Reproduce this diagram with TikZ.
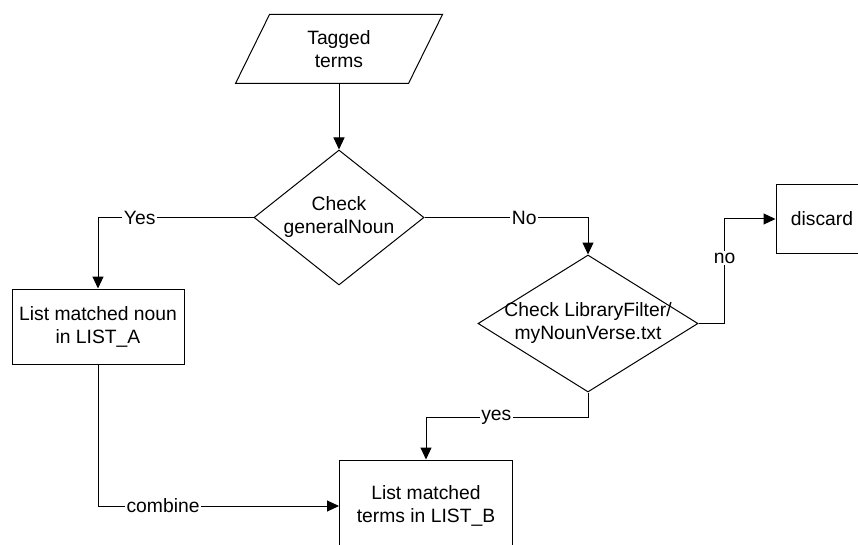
\documentclass[tikz,border=0pt]{standalone}
\usepackage{fontspec}
\setmainfont{Liberation Sans}
\usetikzlibrary{shapes.geometric,arrows.meta,calc}
\begin{document}
\begin{tikzpicture}[x=1pt,y=-1pt,
  every node/.style={font=\fontsize{19.3}{23}\selectfont, align=center},
  box/.style={draw, rectangle, inner sep=0pt},
  decision/.style={draw, diamond, inner sep=0pt},
  txt/.style={inner sep=0pt},
  lbl/.style={fill=white, inner sep=1.5pt},
  flow/.style={line width=1pt, -{Triangle[length=12pt,width=11pt]}},
  plain/.style={line width=1pt},
  line width=1pt]
  \useasboundingbox (0,0) rectangle (858,545);
  \clip (0,0) rectangle (858,545);

  % input: parallelogram with its text
  \node[txt, minimum width=172pt, minimum height=68pt] (in) at (339,49) {Tagged\\terms};
  \draw ($(in.south west)+(-17,0)$) -- ($(in.south east)+(-17,0)$)
        -- ($(in.north east)+(17,0)$) -- ($(in.north west)+(17,0)$) -- cycle;

  % decisions
  \node[decision, minimum width=170pt, minimum height=135pt] (d1) at (339,217.5) {};
  \node[txt] (d1t) at (d1) {Check\\generalNoun};
  \node[decision, minimum width=220pt, minimum height=137pt] (d2) at (588,323.5) {};
  \node[txt] (d2t) at (d2) {Check LibraryFilter/\\myNounVerse.txt};

  % process boxes
  \node[box, minimum width=172pt, minimum height=75pt] (a) at (98,326.5) {List matched noun\\in LIST\_A};
  \node[box, minimum width=173pt, minimum height=92pt] (b) at (426,506) {List matched\\terms in LIST\_B};
  \node[box, minimum width=92pt, minimum height=68pt] (disc) at (822,219) {};
  \node[txt] (disct) at (disc) {discard};

  % connectors
  \draw[flow] (in.south) -- (d1.north);
  \draw[flow] (d1.west) -| node[lbl, pos=0.366] {Yes} (a.north);
  \draw[flow] (d1.east) -| node[lbl, pos=0.305] {No} (d2.north);
  \draw[flow] (d2.east) -- ++(26,0) |- node[lbl, pos=0.3125] {no} (disc.west);
  \draw[flow] (d2.south) -- ++(0,25) -| node[lbl, pos=0.283] {yes} (b.north);
  \draw[flow] (a.south) |- node[lbl, pos=0.635] {combine} (b.west);
\end{tikzpicture}
\end{document}
